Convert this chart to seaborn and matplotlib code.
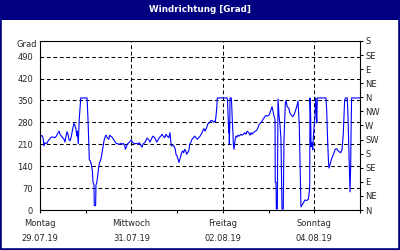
import matplotlib
matplotlib.use("Agg")
import matplotlib.pyplot as plt
import seaborn as sns
import pandas as pd
from matplotlib.patches import Rectangle

# hours since Montag 29.07.19 00:00
hours = [0.4, 1.05, 1.6, 2.1, 2.6, 3.15, 3.7, 4.2, 4.7, 5.4, 5.9, 6.8, 7.7, 8.6, 9.45, 10.0,
         10.5, 11.2, 11.9, 12.6, 13.1, 13.65, 14.2, 14.7, 15.2, 15.75, 16.3, 16.8, 17.3, 17.85,
         18.4, 18.9, 19.4, 19.6, 20.1, 20.3, 20.6, 21.0, 21.4, 24.7, 24.8, 25.2, 25.6, 25.9,
         26.4, 26.9, 27.5, 27.8, 28.35, 28.5, 29.2, 29.4, 29.8, 30.3, 30.8, 31.3, 32.0, 32.55,
         33.1, 33.6, 34.3, 34.8, 35.3, 36.1, 36.6, 37.1, 37.8, 38.3, 39.0, 39.5, 40.1, 40.95,
         41.6, 42.4, 43.05, 43.7, 44.5, 44.8, 45.3, 45.8, 46.6, 47.25, 47.9, 48.5, 49.2, 50.0,
         50.8, 51.45, 52.1, 52.9, 53.55, 54.2, 55.0, 55.65, 56.3, 57.1, 57.75, 58.4, 59.2,
         59.85, 60.5, 61.3, 61.95, 62.6, 63.4, 64.05, 64.7, 65.5, 66.15, 66.8, 67.6, 68.25,
         68.6, 68.9, 70.35, 71.0, 71.4, 71.9, 72.45, 73.0, 73.3, 73.9, 74.4, 74.9, 75.4, 76.0,
         76.5, 77.0, 77.5, 78.1, 78.6, 79.1, 79.8, 80.5, 81.2, 81.9, 82.6, 83.3, 84.0, 84.7,
         85.4, 86.1, 86.6, 87.15, 87.5, 88.0, 88.6, 89.25, 89.8, 90.3, 91.0, 91.5, 92.0, 92.4,
         92.8, 93.1, 98.3, 98.5, 98.9, 99.1, 99.2, 99.4, 99.6, 99.75, 100.4, 100.6, 101.0,
         101.3, 101.5, 101.85, 102.2, 102.5, 102.9, 103.4, 103.95, 104.5, 105.0, 105.5, 106.05,
         106.7, 107.5, 108.15, 108.8, 109.6, 110.25, 110.8, 111.3, 112.0, 112.7, 113.8, 114.45,
         115.1, 115.9, 116.55, 117.2, 118.0, 118.65, 119.3, 120.1, 120.75, 121.3, 121.8, 122.3,
         122.85, 123.4, 123.5, 123.9, 124.1, 124.6, 124.95, 125.5, 126.0, 126.5, 127.05, 127.7,
         128.1, 128.8, 129.15, 129.8, 130.6, 131.25, 131.9, 132.7, 133.35, 134.0, 134.8,
         135.45, 136.1, 136.9, 137.0, 138.2, 139.1, 140.0, 140.9, 141.4, 141.6, 141.75, 142.1,
         142.3, 142.8, 143.2, 143.5, 143.85, 144.4, 144.7, 145.0, 145.3, 145.6, 150.15, 150.5,
         151.0, 151.4, 151.7, 152.25, 152.9, 153.7, 154.35, 155.0, 155.8, 156.45, 157.1, 157.9,
         158.55, 159.2, 159.6, 159.9, 160.3, 161.3, 161.7, 162.1, 162.4, 162.75, 163.1, 163.3,
         163.6, 168.0]
grad = [236, 238, 230, 205, 215, 213, 213, 220, 224, 229, 233, 233, 231, 236, 247, 252,
        242, 236, 231, 226, 217, 236, 250, 242, 226, 221, 231, 247, 263, 277,
        269, 258, 236, 252, 212, 247, 290, 323, 358, 358, 343, 290, 210, 160,
        157, 146, 125, 90, 80, 14, 14, 80, 88, 109, 136, 152, 162, 183,
        205, 221, 236, 239, 231, 226, 239, 236, 233, 228, 222, 217, 212, 212,
        209, 213, 210, 213, 205, 194, 201, 210, 215, 219, 224, 217, 213, 212,
        213, 210, 215, 207, 201, 212, 215, 223, 230, 224, 217, 226, 236,
        233, 228, 217, 224, 231, 236, 242, 236, 231, 242, 236, 231, 247,
        226, 205, 205, 194, 178, 173, 162, 152, 160, 173, 183, 189, 183, 194,
        189, 178, 183, 189, 210, 215, 226, 231, 236, 231, 226, 231, 236, 242,
        252, 260, 252, 258, 263, 274, 277, 282, 286, 286, 281, 284, 281, 300,
        327, 358, 358, 342, 279, 247, 279, 210, 260, 358, 358, 342, 279,
        247, 210, 194, 215, 226, 236, 233, 239, 236, 239, 242, 239,
        242, 247, 242, 252, 247, 239, 247, 242, 247, 250, 255, 263,
        274, 279, 284, 290, 298, 302, 300, 302, 311, 321, 330, 317,
        300, 290, 88, 88, 3, 3, 355, 300, 272, 226, 3, 3,
        226, 340, 350, 330, 325, 309, 304, 298, 304, 315, 331,
        348, 273, 24, 10, 22, 32, 30, 35, 60, 75, 358, 300,
        202, 215, 192, 230, 262, 300, 358, 330, 278, 358, 358, 320,
        224, 162, 134, 145, 160, 173, 182, 194, 196, 190, 186, 183,
        194, 240, 297, 346, 358, 358, 300, 200, 138, 58, 138, 250,
        358, 358]

left_ticks = [0, 70, 140, 210, 280, 350, 420, 490]
right_ticks = [0, 45, 90, 135, 180, 225, 270, 315, 360, 405, 450, 495, 540]
right_labels = ["N", "NE", "E", "SE", "S", "SW", "W", "NW", "N", "NE", "E", "SE", "S"]
day_ticks = [0, 48, 96, 144]
day_labels = ["Montag\n29.07.19", "Mittwoch\n31.07.19", "Freitag\n02.08.19", "Sonntag\n04.08.19"]
minor_ticks = [24, 72, 120, 168]
title = "Windrichtung [Grad]"
unit = "Grad"

sns.set_style("white")
plt.rcParams['font.family'] = ['DejaVu Sans']

navy = "#000080"
fig = plt.figure(figsize=(4, 2.5), dpi=100)
fig.patch.set_facecolor("white")

ax = fig.add_axes([0.1, 0.16, 0.8, 0.676])
df = pd.DataFrame({"h": hours, "g": grad})
sns.lineplot(data=df, x="h", y="g", ax=ax, color="#0000FF", lw=0.8,
             estimator=None, sort=False)
ax.set_xlim(0, 168)
ax.set_ylim(0, 540)
ax.set_xlabel("")
ax.set_ylabel("")

ax.set_yticks(left_ticks)
ax.set_yticklabels([str(v) for v in left_ticks], fontsize=6)
ax.set_xticks(day_ticks)
ax.set_xticklabels(day_labels, fontsize=6, linespacing=1.9)
ax.set_xticks(minor_ticks, minor=True)
ax.tick_params(axis="y", which="both", length=0, pad=5)
ax.tick_params(axis="x", which="both", direction="out", length=2.2, width=0.75,
               color="black", pad=4, bottom=True)
ax.grid(True, which="major", color="black", linestyle=(0, (3.6, 2.6)), lw=0.75)
for s in ax.spines.values():
    s.set_color("black")
    s.set_linewidth(0.8)

ax2 = ax.twinx()
ax2.set_ylim(0, 540)
ax2.set_yticks(right_ticks)
ax2.set_yticklabels(right_labels, fontsize=6)
ax2.tick_params(axis="y", direction="out", length=2.2, width=0.75, color="black",
                pad=1.5, right=True)
for s in ax2.spines.values():
    s.set_visible(False)

fig.text(37 / 400, 1 - 45 / 250, unit, fontsize=6, ha="right", va="center")

# title bar and frame
fig.patches.append(Rectangle((0, 1 - 20 / 250), 1, 20 / 250, transform=fig.transFigure,
                             facecolor=navy, edgecolor="none", zorder=-1))
fig.patches.append(Rectangle((0, 0), 1, 1, transform=fig.transFigure,
                             facecolor="none", edgecolor=navy, lw=2.6, zorder=5))
fig.text(0.5, 1 - 10 / 250, title, color="white", fontsize=6.3, fontweight="bold",
         ha="center", va="center")

fig.savefig("out.png", dpi=100)
